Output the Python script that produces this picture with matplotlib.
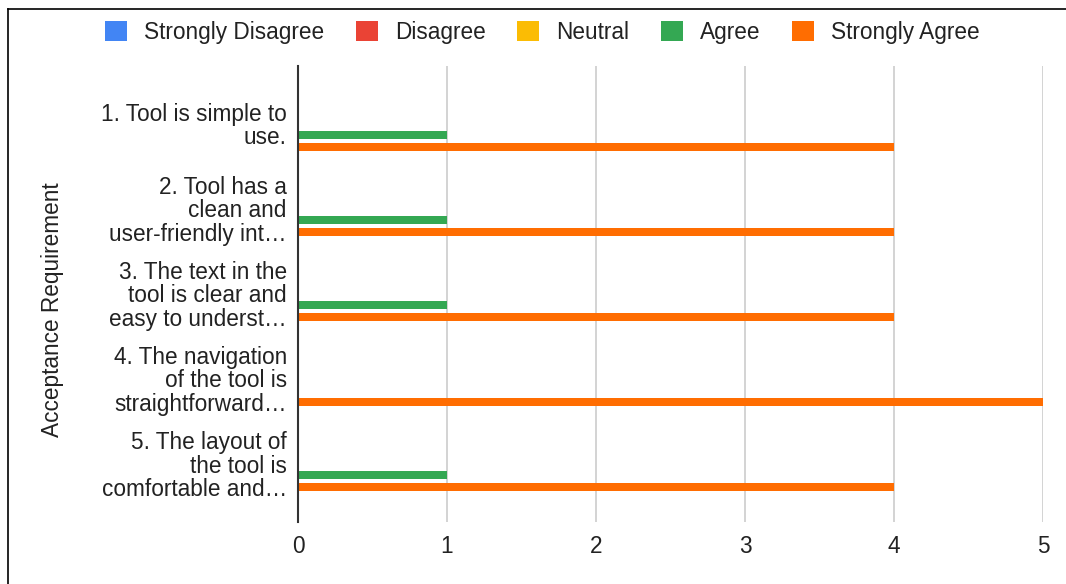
import matplotlib.pyplot as plt
import numpy as np
from matplotlib.lines import Line2D

plt.rcParams['font.family'] = ['Liberation Sans', 'DejaVu Sans']

# Survey answers per statement
requirements = [
    "1. Tool is simple to\nuse.",
    "2. Tool has a\nclean and\nuser-friendly int…",
    "3. The text in the\ntool is clear and\neasy to underst…",
    "4. The navigation\nof the tool is\nstraightforward…",
    "5. The layout of\nthe tool is\ncomfortable and…",
]
responses = ["Strongly Disagree", "Disagree", "Neutral", "Agree", "Strongly Agree"]
strongly_disagree = [0, 0, 0, 0, 0]
disagree = [0, 0, 0, 0, 0]
neutral = [0, 0, 0, 0, 0]
agree = [1, 1, 1, 0, 1]
strongly_agree = [4, 4, 4, 5, 4]
colors = ["#4285F4", "#EA4335", "#FBBC04", "#34A853", "#FF6D01"]

series = [strongly_disagree, disagree, neutral, agree, strongly_agree]
FS = 16.3
TXT = "#222222"

fig = plt.figure(figsize=(10.66, 5.84), dpi=100)
ax = fig.add_axes([0.2795, 0.106, 0.699, 0.781])

y = np.arange(len(requirements))
slot = 0.141
handles = []
for j, (name, vals, c) in enumerate(zip(responses, series, colors)):
    b = ax.barh(y + (j - 2) * slot, vals, height=0.094, color=c, label=name)
    handles.append(b)

ax.set_ylim(4.69, -0.67)
ax.set_xlim(0, 5)
ax.set_yticks(y)
ax.set_yticklabels(requirements, fontsize=FS, color=TXT, linespacing=1.02)
ax.set_xticks(range(6))
ax.tick_params(axis="x", length=0, pad=9, labelsize=FS, labelcolor=TXT)
ax.tick_params(axis="y", length=0, pad=8)
ax.grid(axis="x", color="#cccccc", linewidth=1.2)
ax.set_axisbelow(True)
for s in ["top", "right", "bottom"]:
    ax.spines[s].set_visible(False)
ax.spines["left"].set_color("#333333")
ax.spines["left"].set_linewidth(1.5)
ax.spines["left"].set_zorder(5)

fig.text(0.049, 0.469, "Acceptance Requirement", rotation=90, ha="center", va="center",
         fontsize=FS, color=TXT)

fig.legend(handles=handles, loc="center", bbox_to_anchor=(0.509, 0.945), ncol=5,
           frameon=False, fontsize=FS, handlelength=0.97, handleheight=0.97,
           handletextpad=0.75, columnspacing=1.4, labelcolor=TXT)

# frame lines along top and left edges
fig.add_artist(Line2D([0.0075, 1.0], [0.9845, 0.9845], color="black", linewidth=1.2))
fig.add_artist(Line2D([0.0075, 0.0075], [0.0, 0.9845], color="black", linewidth=1.2))

plt.savefig("out.png", dpi=100)
